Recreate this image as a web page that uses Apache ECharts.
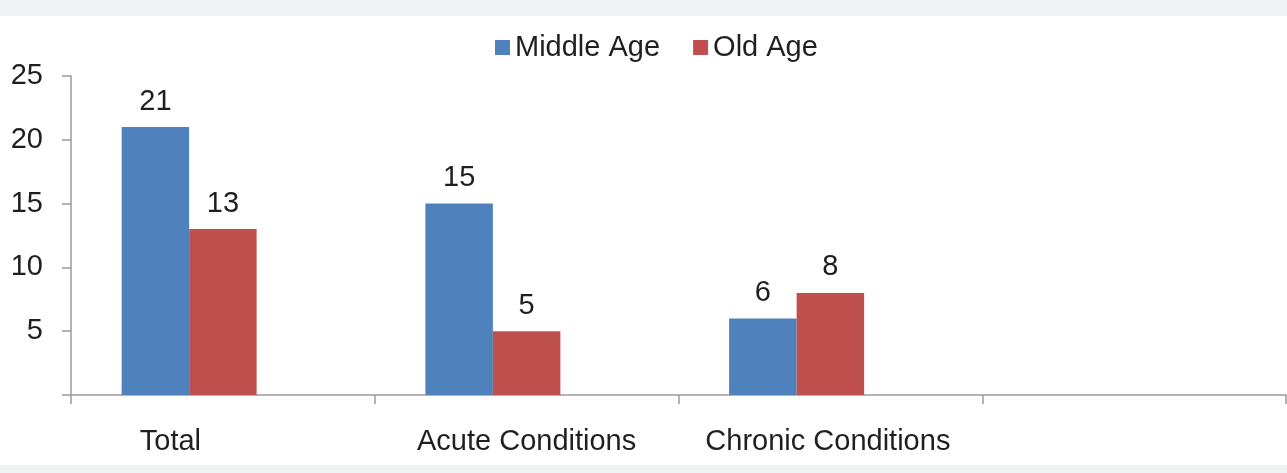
<!DOCTYPE html>
<html>
<head>
<meta charset="utf-8">
<script src="https://cdn.jsdelivr.net/npm/echarts@6/dist/echarts.min.js"></script>
<style>
  html, body { margin: 0; padding: 0; background: #f1f2f4; }
  #chart { position: absolute; left: 0; top: 16px; width: 1287px; height: 449px; background: #ffffff; }
</style>
</head>
<body>
<div id="chart"></div>
<script>
// Condition counts by age group
const categories = ['Total', 'Acute Conditions', 'Chronic Conditions', ''];
const middleAge = [21, 15, 6, null];
const oldAge = [13, 5, 8, null];
// empty third series keeps the space of a third bar in each group
const spacer = [null, null, null, null];
const yTicks = [0, 5, 10, 15, 20, 25];

const FONT = '"Liberation Sans", Arial, sans-serif';
const TEXT = '#1f1f1f';
const AXIS = '#9a9a9a';
const SIZE = 29;

const chart = echarts.init(document.getElementById('chart'), null, { renderer: 'canvas' });

const labelShift = { 'Total': [0, 105, 0, 0], 'Chronic Conditions': [0, 5, 0, 0] };

chart.setOption({
  animation: false,
  textStyle: { fontFamily: FONT },
  legend: {
    data: ['Middle Age', 'Old Age'],
    top: 12,
    left: 490,
    icon: 'rect',
    itemWidth: 15,
    itemHeight: 15,
    itemGap: 33,
    textStyle: { fontFamily: FONT, fontSize: SIZE, color: TEXT }
  },
  grid: { left: 71, right: 1, top: 60, bottom: 70, containLabel: false },
  xAxis: {
    type: 'category',
    data: categories.map(c => ({ value: c, textStyle: { padding: labelShift[c] || [0, 0, 0, 0] } })),
    boundaryGap: true,
    axisLine: { lineStyle: { color: AXIS, width: 1.5 } },
    axisTick: { show: true, length: 9, alignWithLabel: false, lineStyle: { color: AXIS, width: 1.5 } },
    axisLabel: { fontFamily: FONT, fontSize: SIZE, color: TEXT, margin: 32, interval: 0 },
    splitLine: { show: false }
  },
  yAxis: {
    type: 'value',
    min: yTicks[0],
    max: yTicks[yTicks.length - 1],
    interval: 5,
    axisLine: { show: true, lineStyle: { color: AXIS, width: 1.5 } },
    axisTick: { show: true, length: 9, lineStyle: { color: AXIS, width: 1.5 } },
    axisLabel: {
      fontFamily: FONT, fontSize: SIZE, color: TEXT, margin: 28,
      padding: [4, 0, 0, 0],
      formatter: v => (v === 0 ? '' : String(v))
    },
    splitLine: { show: false }
  },
  series: [
    {
      name: 'Middle Age', type: 'bar', data: middleAge,
      barWidth: 67.5, barGap: '0%',
      itemStyle: { color: '#4f81bd' },
      label: { show: true, position: 'top', distance: 11, fontFamily: FONT, fontSize: SIZE, color: TEXT }
    },
    {
      name: 'Old Age', type: 'bar', data: oldAge,
      barWidth: 67.5, barGap: '0%',
      itemStyle: { color: '#c0504d' },
      label: { show: true, position: 'top', distance: 11, fontFamily: FONT, fontSize: SIZE, color: TEXT }
    },
    {
      name: 'spacer', type: 'bar', data: spacer,
      barWidth: 67.5, barGap: '0%',
      itemStyle: { color: 'transparent' }
    }
  ]
});
</script>
</body>
</html>
